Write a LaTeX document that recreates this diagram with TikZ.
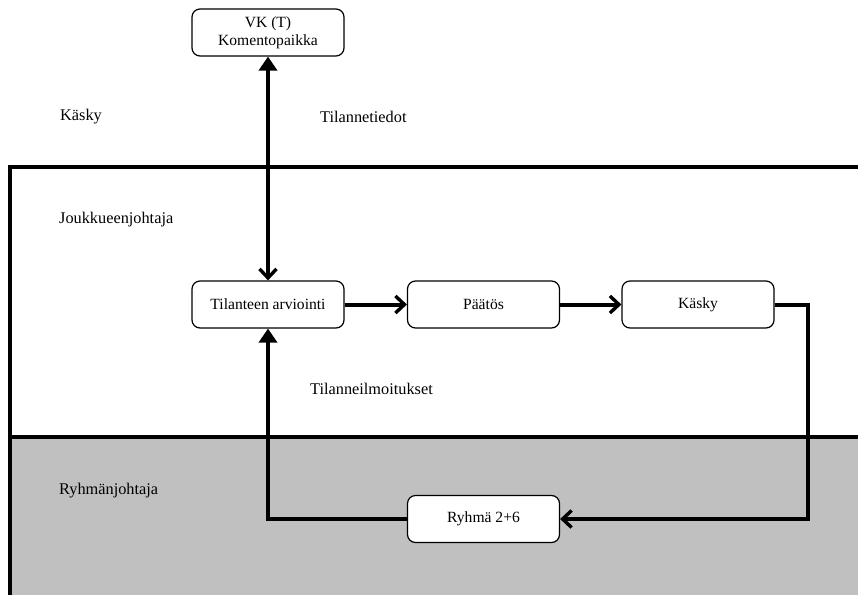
\documentclass[tikz,border=0pt]{standalone}
\usepackage{fontspec}
\setmainfont{Liberation Serif}
\usetikzlibrary{arrows.meta}
\tikzset{
  box/.style={draw, rounded corners=8pt, line width=1.2pt, fill=white,
    minimum width=152pt, minimum height=47pt, inner sep=0pt,
    align=center, font=\fontsize{15.6}{18.5}\selectfont},
  lbl/.style={anchor=west, inner sep=0pt, font=\fontsize{16.3}{19}\selectfont},
  conn/.style={line width=4pt},
  zone/.style={line width=4pt},
  barb/.tip={Straight Barb[length=9pt, width=17pt, line width=3.4pt]},
  tri/.tip={Triangle[length=14pt, width=18pt]}
}
\begin{document}
\begin{tikzpicture}[x=1pt, y=-1pt]
\useasboundingbox (0,0) rectangle (858,594);
% zones
\fill[fill={rgb,255:red,192;green,192;blue,192}] (10,437) rectangle (860,596);
\draw[zone] (860,167) -- (10,167) -- (10,596);
\draw[zone] (10,437) -- (860,437);
% labels
\node[lbl] (l1) at (60,117) {Käsky};
\node[lbl] (l2) at (320,117) {Tilannetiedot};
\node[lbl] (l3) at (59,220) {Joukkueenjohtaja};
\node[lbl] (l4) at (310,389) {Tilanneilmoitukset};
\node[lbl] (l5) at (59,491) {Ryhmänjohtaja};
% boxes
\node[box] (vk) at (268,32.5) {VK (T)\\Komentopaikka};
\node[box] (ta) at (268,304.5) {Tilanteen arviointi};
\node[box] (pa) at (483.5,304.5) {Päätös};
\node[box] (ka) at (698,304.5) {Käsky};
\node[box] (ry) at (483.5,519) {Ryhmä 2+6};
\coordinate (c1) at (808,519);
% connectors
\draw[conn, {tri}-{barb}] (vk.south) -- (ta.north);
\draw[conn, -{barb}] (ta.east) -- (pa.west);
\draw[conn, -{barb}] (pa.east) -- (ka.west);
\draw[conn, -{barb}] (ka.east) -| (c1) -- (ry.east);
\draw[conn, -{tri}] (ry.west) -| (ta.south);
\end{tikzpicture}
\end{document}
